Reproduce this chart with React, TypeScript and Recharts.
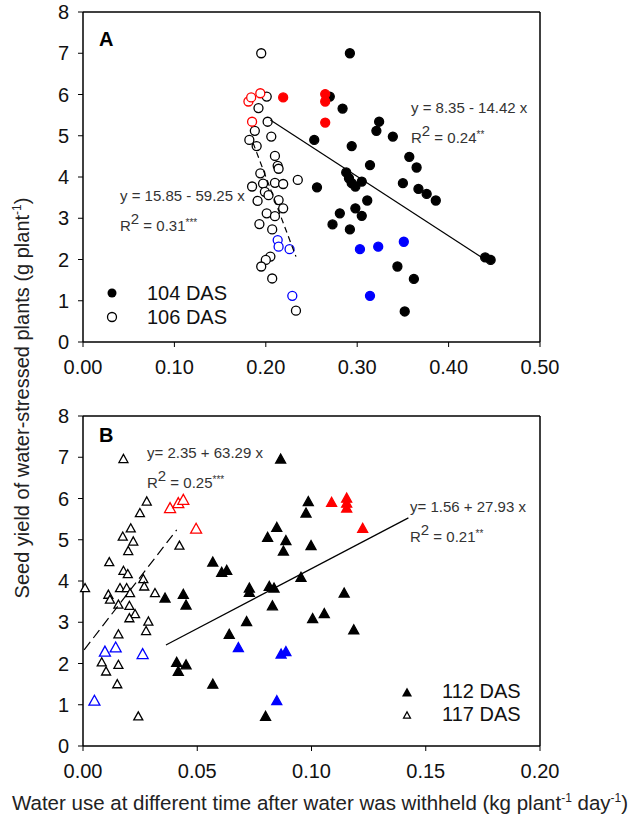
import { ScatterChart, Scatter, XAxis, YAxis, ReferenceLine } from 'recharts'

type Pt = { x: number; y: number }

// Panel A (104 / 106 DAS)
const das104: Pt[] = [
  { x: 0.292, y: 7.0 }, { x: 0.270, y: 5.95 }, { x: 0.284, y: 5.66 }, { x: 0.324, y: 5.34 },
  { x: 0.321, y: 5.12 }, { x: 0.339, y: 4.98 }, { x: 0.253, y: 4.9 }, { x: 0.294, y: 4.75 },
  { x: 0.357, y: 4.49 }, { x: 0.365, y: 4.23 }, { x: 0.314, y: 4.29 }, { x: 0.288, y: 4.11 },
  { x: 0.291, y: 3.97 }, { x: 0.294, y: 3.85 }, { x: 0.298, y: 3.77 }, { x: 0.305, y: 3.89 },
  { x: 0.256, y: 3.75 }, { x: 0.350, y: 3.85 }, { x: 0.367, y: 3.71 }, { x: 0.376, y: 3.59 },
  { x: 0.386, y: 3.43 }, { x: 0.311, y: 3.43 }, { x: 0.298, y: 3.24 }, { x: 0.281, y: 3.12 },
  { x: 0.305, y: 3.06 }, { x: 0.273, y: 2.85 }, { x: 0.292, y: 2.73 }, { x: 0.344, y: 1.83 },
  { x: 0.362, y: 1.53 }, { x: 0.352, y: 0.74 }, { x: 0.440, y: 2.05 }, { x: 0.446, y: 1.99 },
]
const das104Red: Pt[] = [{ x: 0.219, y: 5.93 }, { x: 0.265, y: 6.01 }, { x: 0.265, y: 5.83 }, { x: 0.265, y: 5.32 }]
const das104Blue: Pt[] = [{ x: 0.303, y: 2.25 }, { x: 0.323, y: 2.31 }, { x: 0.351, y: 2.43 }, { x: 0.314, y: 1.12 }]

const das106: Pt[] = [
  { x: 0.195, y: 7.0 }, { x: 0.201, y: 5.95 }, { x: 0.192, y: 5.67 }, { x: 0.202, y: 5.34 },
  { x: 0.188, y: 5.12 }, { x: 0.182, y: 4.9 }, { x: 0.190, y: 4.75 }, { x: 0.206, y: 4.98 },
  { x: 0.210, y: 4.51 }, { x: 0.213, y: 4.27 }, { x: 0.214, y: 4.2 }, { x: 0.194, y: 4.09 },
  { x: 0.235, y: 3.93 }, { x: 0.185, y: 3.77 }, { x: 0.197, y: 3.84 }, { x: 0.210, y: 3.86 },
  { x: 0.219, y: 3.83 }, { x: 0.199, y: 3.64 }, { x: 0.203, y: 3.56 }, { x: 0.191, y: 3.42 },
  { x: 0.214, y: 3.44 }, { x: 0.219, y: 3.24 }, { x: 0.201, y: 3.12 }, { x: 0.210, y: 3.05 },
  { x: 0.193, y: 2.86 }, { x: 0.207, y: 2.73 }, { x: 0.205, y: 2.07 }, { x: 0.200, y: 1.99 },
  { x: 0.195, y: 1.83 }, { x: 0.207, y: 1.54 }, { x: 0.233, y: 0.76 },
]
const das106Red: Pt[] = [{ x: 0.181, y: 5.83 }, { x: 0.184, y: 5.93 }, { x: 0.194, y: 6.03 }, { x: 0.185, y: 5.34 }]
const das106Blue: Pt[] = [{ x: 0.213, y: 2.47 }, { x: 0.214, y: 2.31 }, { x: 0.226, y: 2.25 }, { x: 0.229, y: 1.12 }]

const fit104: Pt[] = [{ x: 0.205, y: 5.38 }, { x: 0.446, y: 1.91 }]
const fit106: Pt[] = [{ x: 0.186, y: 4.83 }, { x: 0.233, y: 2.07 }]

// Panel B (112 / 117 DAS)
const das112: Pt[] = [
  { x: 0.0865, y: 6.97 }, { x: 0.0986, y: 5.94 }, { x: 0.0976, y: 5.66 }, { x: 0.0848, y: 5.31 },
  { x: 0.0808, y: 5.07 }, { x: 0.0888, y: 4.99 }, { x: 0.0998, y: 4.87 }, { x: 0.0877, y: 4.74 },
  { x: 0.0568, y: 4.47 }, { x: 0.0607, y: 4.22 }, { x: 0.0629, y: 4.27 }, { x: 0.0954, y: 4.1 },
  { x: 0.0728, y: 3.84 }, { x: 0.0728, y: 3.74 }, { x: 0.0815, y: 3.88 }, { x: 0.0836, y: 3.84 },
  { x: 0.1143, y: 3.72 }, { x: 0.0829, y: 3.41 }, { x: 0.1056, y: 3.22 }, { x: 0.1005, y: 3.1 },
  { x: 0.0716, y: 3.03 }, { x: 0.1185, y: 2.83 }, { x: 0.064, y: 2.72 }, { x: 0.0568, y: 1.51 },
  { x: 0.0799, y: 0.73 }, { x: 0.0359, y: 3.6 }, { x: 0.0439, y: 3.69 }, { x: 0.0451, y: 3.43 },
  { x: 0.041, y: 2.04 }, { x: 0.0417, y: 1.82 }, { x: 0.0451, y: 1.98 },
]
const das112Red: Pt[] = [
  { x: 0.1088, y: 5.92 }, { x: 0.1154, y: 6.02 }, { x: 0.1154, y: 5.9 }, { x: 0.1154, y: 5.78 }, { x: 0.1224, y: 5.29 },
]
const das112Blue: Pt[] = [{ x: 0.068, y: 2.4 }, { x: 0.0867, y: 2.24 }, { x: 0.0888, y: 2.3 }, { x: 0.0848, y: 1.11 }]

const das117: Pt[] = [
  { x: 0.0177, y: 6.97 }, { x: 0.0279, y: 5.94 }, { x: 0.0249, y: 5.66 }, { x: 0.0209, y: 5.29 },
  { x: 0.0174, y: 5.09 }, { x: 0.022, y: 4.97 }, { x: 0.0422, y: 4.87 }, { x: 0.0198, y: 4.74 },
  { x: 0.0115, y: 4.47 }, { x: 0.0177, y: 4.26 }, { x: 0.0196, y: 4.18 }, { x: 0.0264, y: 4.06 },
  { x: 0.0268, y: 3.88 }, { x: 0.0009, y: 3.84 }, { x: 0.0162, y: 3.84 }, { x: 0.0191, y: 3.84 },
  { x: 0.0206, y: 3.72 }, { x: 0.0315, y: 3.72 }, { x: 0.0111, y: 3.68 }, { x: 0.0118, y: 3.56 },
  { x: 0.0155, y: 3.44 }, { x: 0.0203, y: 3.41 }, { x: 0.0228, y: 3.21 }, { x: 0.0203, y: 3.11 },
  { x: 0.0286, y: 3.03 }, { x: 0.0276, y: 2.8 }, { x: 0.0155, y: 2.72 }, { x: 0.0082, y: 2.04 },
  { x: 0.0155, y: 1.98 }, { x: 0.0101, y: 1.82 }, { x: 0.015, y: 1.51 }, { x: 0.0242, y: 0.73 },
]
const das117Red: Pt[] = [{ x: 0.0381, y: 5.78 }, { x: 0.0417, y: 5.9 }, { x: 0.0439, y: 5.98 }, { x: 0.0495, y: 5.28 }]
const das117Blue: Pt[] = [{ x: 0.0096, y: 2.3 }, { x: 0.0143, y: 2.4 }, { x: 0.0261, y: 2.24 }, { x: 0.005, y: 1.11 }]

const fit112: Pt[] = [{ x: 0.0363, y: 2.45 }, { x: 0.1424, y: 5.53 }]
const fit117: Pt[] = [{ x: 0.0005, y: 2.33 }, { x: 0.041, y: 5.24 }]

const yTicks = [0, 1, 2, 3, 4, 5, 6, 7, 8]
const xTicksA = [0, 0.1, 0.2, 0.3, 0.4, 0.5]
const xTicksB = [0, 0.05, 0.1, 0.15, 0.2]
const legendA = ['104 DAS', '106 DAS']
const legendB = ['112 DAS', '117 DAS']

const FONT = 'Liberation Sans, Arial, sans-serif'
const RED = '#ff0000'
const BLUE = '#0000ff'

const circle = (fill: string, stroke: string, r = 5) => (p: any) =>
  <circle cx={p.cx} cy={p.cy} r={r} fill={fill} stroke={stroke} strokeWidth={1.3} />

const triPath = (cx: number, cy: number, w: number) => {
  const h = w * 0.9
  return `${cx},${cy - h / 2} ${cx - w / 2},${cy + h / 2} ${cx + w / 2},${cy + h / 2}`
}
const tri = (fill: string, stroke: string, w = 10) => (p: any) =>
  <polygon points={triPath(p.cx, p.cy, w)} fill={fill} stroke={stroke} strokeWidth={1.3} />

const noDot = () => <g />

const tickStyle = { fill: '#111', fontSize: 20, fontFamily: FONT }
const axisStroke = { stroke: '#000', strokeWidth: 1.5 }

function LegendRows({ left, top, items, marks, rowH }: { left: number; top: number; items: string[]; marks: JSX.Element[]; rowH: number }) {
  return (
    <div style={{ position: 'absolute', left, top, fontFamily: FONT, fontSize: 20, color: '#111' }}>
      {items.map((t, i) => (
        <div key={t} style={{ display: 'flex', alignItems: 'center', height: rowH }}>
          <svg width={16} height={16} style={{ marginRight: 27 }}>{marks[i]}</svg>
          <span>{t}</span>
        </div>
      ))}
    </div>
  )
}

function Eq({ left, top, eq, r2, sig }: { left: number; top: number; eq: string; r2: string; sig: string }) {
  return (
    <div style={{ position: 'absolute', left, top, fontFamily: FONT, fontSize: 15, color: '#333', lineHeight: '27px', whiteSpace: 'nowrap' }}>
      <div>{eq}</div>
      <div>
        R<sup style={{ fontSize: 15, verticalAlign: 7, lineHeight: 0 }}>2</sup> = {r2}
        <span style={{ fontSize: 10, verticalAlign: 5 }}>{sig}</span>
      </div>
    </div>
  )
}

export default function App() {
  return (
    <div style={{ position: 'absolute', left: 0, top: 0, width: 638, height: 831, background: '#fff', overflow: 'hidden' }}>
      <div style={{ position: 'absolute', left: 0, top: 0 }}>
        <ScatterChart width={638} height={390} margin={{ top: 12, right: 98, bottom: 0, left: 0 }}>
          <XAxis type="number" dataKey="x" domain={[0, 0.5]} ticks={xTicksA} interval={0}
            tickFormatter={(v: number) => v.toFixed(2)} axisLine={axisStroke} tickLine={{ stroke: '#000' }}
            tickSize={5} tickMargin={13} tick={tickStyle} height={48} />
          <YAxis type="number" dataKey="y" domain={[0, 8]} ticks={yTicks} interval={0} axisLine={axisStroke}
            tickLine={{ stroke: '#000' }} tickSize={5} tickMargin={9} tick={tickStyle} width={83} />
          <ReferenceLine y={8} stroke="#000" strokeWidth={1.5} />
          <ReferenceLine x={0.5} stroke="#000" strokeWidth={1.5} />
          <Scatter data={das106} shape={circle('#fff', '#000', 4.5)} isAnimationActive={false} />
          <Scatter data={das106Red} shape={circle('#fff', RED, 4.5)} isAnimationActive={false} />
          <Scatter data={das106Blue} shape={circle('#fff', BLUE, 4.5)} isAnimationActive={false} />
          <Scatter data={das104} shape={circle('#000', '#000', 4.5)} isAnimationActive={false} />
          <Scatter data={das104Red} shape={circle(RED, RED, 4.5)} isAnimationActive={false} />
          <Scatter data={das104Blue} shape={circle(BLUE, BLUE, 4.5)} isAnimationActive={false} />
          <Scatter data={fit104} shape={noDot} line={{ stroke: '#000', strokeWidth: 1.2 }} isAnimationActive={false} />
          <Scatter data={fit106} shape={noDot} line={{ stroke: '#000', strokeWidth: 1.2, strokeDasharray: '6 4' }} isAnimationActive={false} />
        </ScatterChart>
      </div>
      <div style={{ position: 'absolute', left: 0, top: 404 }}>
        <ScatterChart width={638} height={390} margin={{ top: 12, right: 98, bottom: 0, left: 0 }}>
          <XAxis type="number" dataKey="x" domain={[0, 0.2]} ticks={xTicksB} interval={0}
            tickFormatter={(v: number) => v.toFixed(2)} axisLine={axisStroke} tickLine={{ stroke: '#000' }}
            tickSize={5} tickMargin={13} tick={tickStyle} height={48} />
          <YAxis type="number" dataKey="y" domain={[0, 8]} ticks={yTicks} interval={0} axisLine={axisStroke}
            tickLine={{ stroke: '#000' }} tickSize={5} tickMargin={9} tick={tickStyle} width={83} />
          <ReferenceLine y={8} stroke="#000" strokeWidth={1.5} />
          <ReferenceLine x={0.2} stroke="#000" strokeWidth={1.5} />
          <Scatter data={das117} shape={tri('#fff', '#000', 9)} isAnimationActive={false} />
          <Scatter data={das117Red} shape={tri('#fff', RED, 11)} isAnimationActive={false} />
          <Scatter data={das117Blue} shape={tri('#fff', BLUE, 11)} isAnimationActive={false} />
          <Scatter data={das112} shape={tri('#000', '#000', 10)} isAnimationActive={false} />
          <Scatter data={das112Red} shape={tri(RED, RED, 10)} isAnimationActive={false} />
          <Scatter data={das112Blue} shape={tri(BLUE, BLUE, 10)} isAnimationActive={false} />
          <Scatter data={fit112} shape={noDot} line={{ stroke: '#000', strokeWidth: 1.2 }} isAnimationActive={false} />
          <Scatter data={fit117} shape={noDot} line={{ stroke: '#000', strokeWidth: 1.2, strokeDasharray: '10 5' }} isAnimationActive={false} />
        </ScatterChart>
      </div>

      <LegendRows left={104} top={281} items={legendA} rowH={24}
        marks={[<circle cx={8} cy={8} r={4.5} fill="#000" />, <circle cx={8} cy={8} r={4.5} fill="#fff" stroke="#000" strokeWidth={1.3} />]} />
      <LegendRows left={399} top={680} items={legendB} rowH={23}
        marks={[<polygon points={triPath(8, 8, 10)} fill="#000" />, <polygon points={triPath(8, 8, 7)} fill="#fff" stroke="#000" strokeWidth={1.2} />]} />

      <div style={{ position: 'absolute', left: 99, top: 28, fontFamily: FONT, fontSize: 20, fontWeight: 'bold' }}>A</div>
      <div style={{ position: 'absolute', left: 99, top: 424, fontFamily: FONT, fontSize: 20, fontWeight: 'bold' }}>B</div>

      <Eq left={411} top={94} eq="y = 8.35 - 14.42 x" r2="0.24" sig="**" />
      <Eq left={120} top={182} eq="y = 15.85 - 59.25 x" r2="0.31" sig="***" />
      <Eq left={147} top={439} eq="y= 2.35 + 63.29 x" r2="0.25" sig="***" />
      <Eq left={410} top={493} eq="y= 1.56 + 27.93 x" r2="0.21" sig="**" />

      <div style={{ position: 'absolute', left: 22, top: 398, transform: 'translate(-50%, -50%) rotate(-90deg)', whiteSpace: 'nowrap', fontFamily: FONT, fontSize: 20, color: '#222' }}>
        Seed yield of water-stressed plants (g plant<sup style={{ fontSize: 12 }}>-1</sup>)
      </div>
      <div style={{ position: 'absolute', left: 320, top: 803, transform: 'translate(-50%, -50%)', whiteSpace: 'nowrap', fontFamily: FONT, fontSize: 20.5, color: '#222' }}>
        Water use at different time after water was withheld (kg plant<sup style={{ fontSize: 12 }}>-1</sup> day<sup style={{ fontSize: 12 }}>-1</sup>)
      </div>
    </div>
  )
}
